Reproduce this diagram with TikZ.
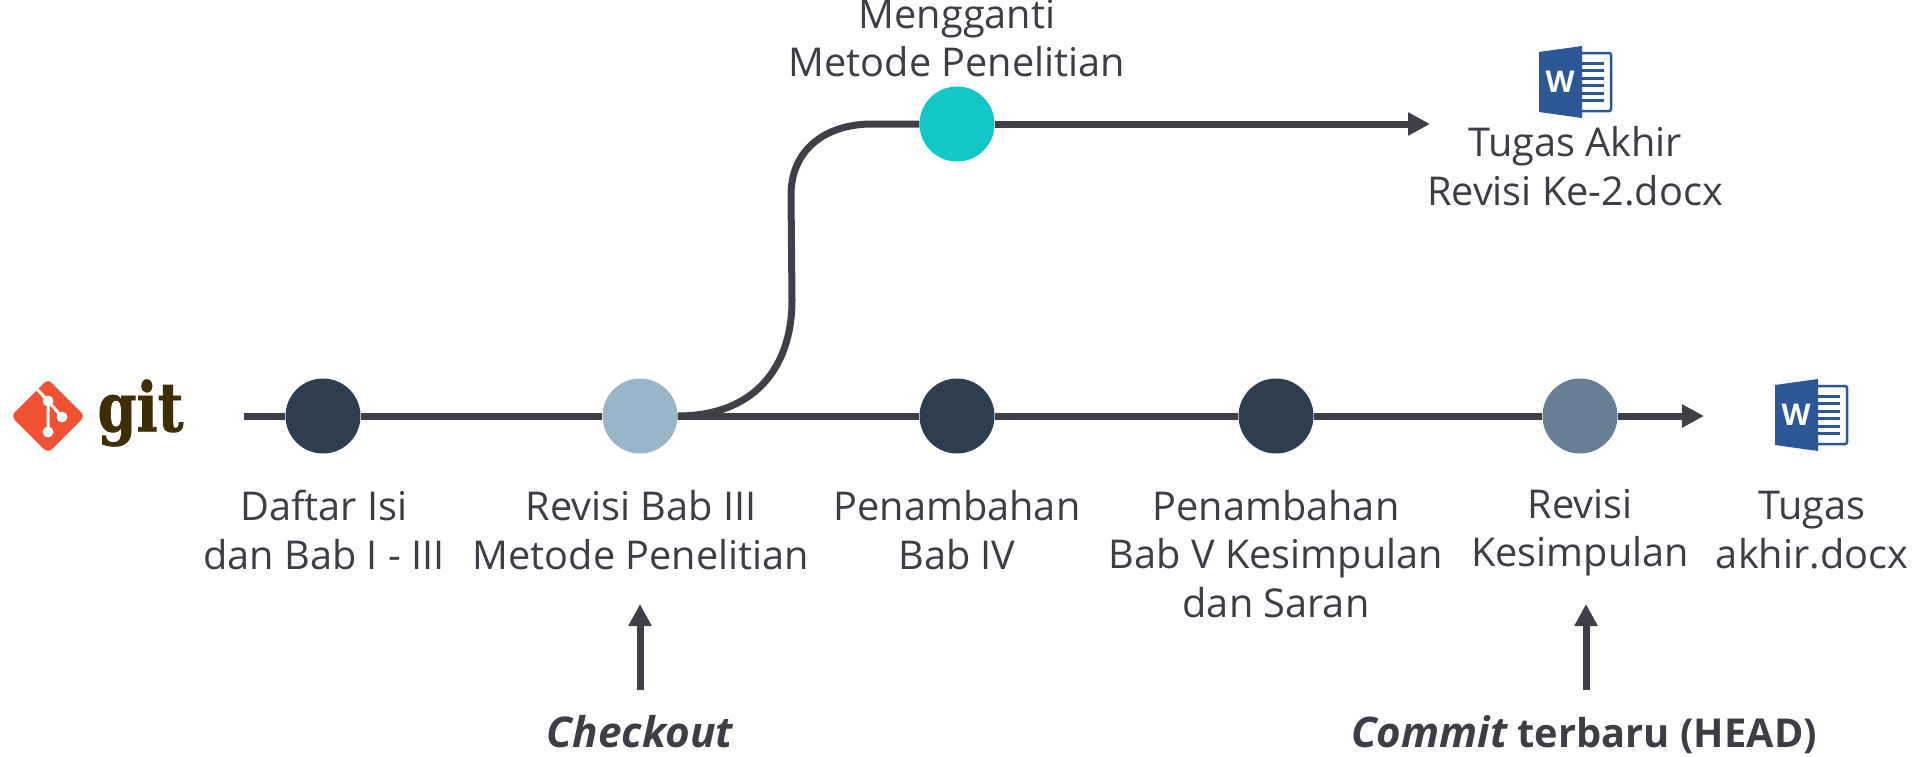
\documentclass[tikz,border=0pt]{standalone}
\usepackage{fontspec}
\setmainfont{Open Sans}
\newfontfamily\gitfont[BoldFeatures={FakeBold=1.2}]{DejaVu Serif}
\usetikzlibrary{arrows.meta}
\definecolor{ink}{HTML}{3F3F47}
\definecolor{txt}{HTML}{3D3D45}
\definecolor{navy}{HTML}{2C3E50}
\definecolor{pale}{HTML}{98B6CA}
\definecolor{slate}{HTML}{667F96}
\definecolor{teal}{HTML}{12C8C6}
\definecolor{wordblue}{HTML}{2B5797}
\definecolor{gitred}{HTML}{F05133}
\definecolor{gitbrown}{HTML}{3F2D05}
\newcommand{\twosize}{\fontsize{39.7}{48.5}\selectfont}
\tikzset{
  x=1pt,y=-1pt,
  commit/.style={circle,minimum size=75pt,inner sep=0pt,fill=#1},
  link/.style={draw=ink,line width=7pt},
  tip/.style={-{Triangle[length=22pt,width=22pt]}},
  label/.style={align=center,text=txt,inner sep=0pt,font=\twosize,anchor=center,
    execute at begin node=\strut,execute at end node=\strut},
  pointerlabel/.style={text=txt,inner sep=0pt,anchor=base},
  wordicon/.pic={
    \fill[wordblue] (-21,-15) -- (22,-21) -- (22,51) -- (-21,45) -- cycle;
    \draw[wordblue,line width=2.5pt,rounded corners=2pt] (22,-14) -- (51,-14) -- (51,44) -- (22,44);
    \foreach \yy in {-4,3.5,11,18.5,26,33.5}{\fill[wordblue] (22,\yy-1.5) rectangle (44,\yy+1.5);}
    \node[text=white,inner sep=0pt,font=\fontsize{30}{30}\selectfont\bfseries] (-w) at (0,15) {W};
  }
}
\begin{document}
\begin{tikzpicture}
\useasboundingbox (0,0) rectangle (1920,756);
% commits
\node[commit=navy]  (c1) at (323,416) {};
\node[commit=pale]  (c2) at (640,416) {};
\node[commit=navy]  (c3) at (957,416) {};
\node[commit=navy]  (c4) at (1276,416) {};
\node[commit=slate] (c5) at (1580,416) {};
\node[commit=teal]  (c6) at (957,124) {};
\coordinate (start) at (244,416);
\coordinate (mainend) at (1704,416);
\coordinate (topend) at (1430,124);
% connectors
\draw[link] (start) -- (c1);
\draw[link] (c1) -- (c2);
\draw[link] (c2) -- (c3);
\draw[link] (c3) -- (c4);
\draw[link] (c4) -- (c5);
\draw[link,tip] (c5) -- (mainend);
\draw[link] (c2.east) .. controls (752,416) and (792,370) .. (792,300) -- (791,195) .. controls (791,150) and (825,124) .. (872,124) -- (c6.west);
\draw[link,tip] (c6) -- (topend);
% labels
\node[label] (lm) at (957,45) {Mengganti\\Metode Penelitian};
\node[label] (lt) at (1575,173) {Tugas Akhir\\Revisi Ke-2.docx};
\node[label] (l1) at (324,537) {Daftar Isi\\dan Bab I - III};
\node[label] (l2) at (641,537) {Revisi Bab III\\Metode Penelitian};
\node[label] (l3) at (957,537) {Penambahan\\Bab IV};
\node[label] (l4) at (1276,561) {Penambahan\\Bab V Kesimpulan\\dan Saran};
\node[label] (l5) at (1580,535) {Revisi\\Kesimpulan};
\node[label] (l6) at (1812,537) {Tugas\\akhir.docx};
% pointers
\node[pointerlabel,font=\fontsize{42.3}{48.5}\selectfont\bfseries\itshape] (co) at (640,747) {Checkout};
\node[pointerlabel,font=\fontsize{39.8}{48.5}\selectfont\bfseries] (he) at (1584,747) {{\fontsize{42.1}{48.5}\selectfont\itshape Commit} terbaru (HEAD)};
\coordinate (ca) at (640,690);
\coordinate (cb) at (640,604);
\coordinate (ha) at (1586,690);
\coordinate (hb) at (1586,604);
\draw[link,tip] (ca) -- (cb);
\draw[link,tip] (ha) -- (hb);
% word icons
\pic (w1) at (1560,67) {wordicon};
\pic (w2) at (1796,400) {wordicon};
% git logo
\begin{scope}
\clip[rounded corners=5pt] (48,379) -- (85,416) -- (48,453) -- (11,416) -- cycle;
\fill[gitred] (48,379) -- (85,416) -- (48,453) -- (11,416) -- cycle;
\draw[white,line width=3pt] (36,388) -- (48,401) -- (48,432);
\draw[white,line width=3pt] (48,401) -- (62,417);
\fill[white] (48,401) circle (5.5) (48,432) circle (5.5) (62,417) circle (5.5);
\end{scope}
\node[inner sep=0pt,xscale=0.82,text=gitbrown,font=\fontsize{68}{68}\selectfont\gitfont\bfseries] (gittext) at (140.5,413) {git};
\end{tikzpicture}
\end{document}
